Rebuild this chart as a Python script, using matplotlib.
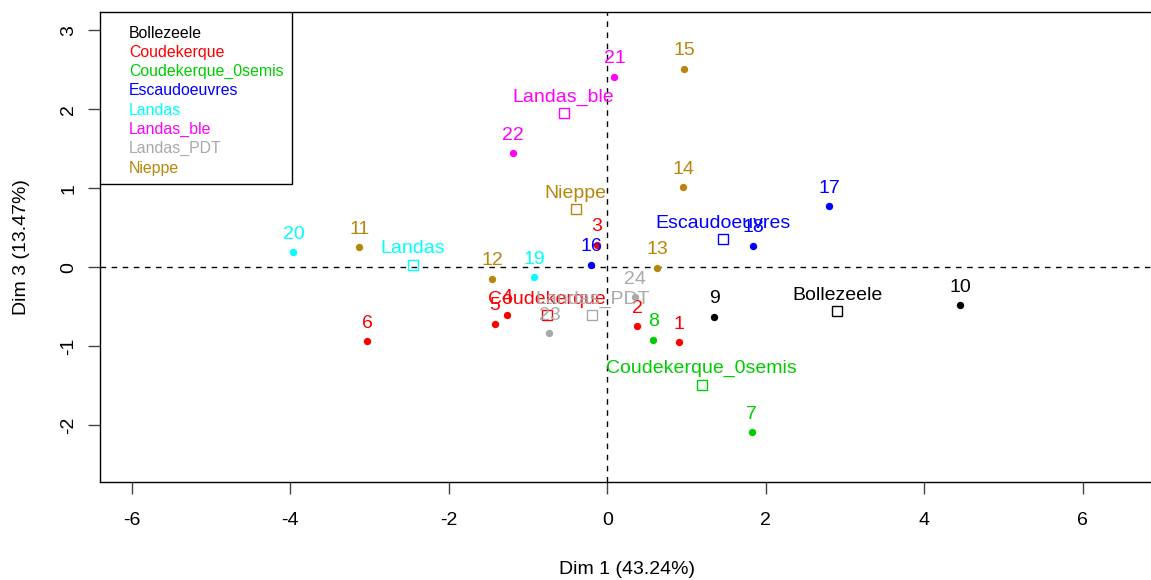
import matplotlib.pyplot as plt
from matplotlib.patches import Rectangle

# Values (approximate digitisation).
GROUPS = [
    "Bollezeele",
    "Coudekerque",
    "Coudekerque_0semis",
    "Escaudoeuvres",
    "Landas",
    "Landas_ble",
    "Landas_PDT",
    "Nieppe",
]
GROUP_COLORS = [
    "#000000",
    "#FF0000",
    "#00CD00",
    "#0000FF",
    "#00FFFF",
    "#FF00FF",
    "#A9A9A9",
    "#B8860B",
]
GROUP_X = [2.90, -0.76, 1.19, 1.46, -2.45, -0.55, -0.19, -0.40]
GROUP_Y = [-0.56, -0.61, -1.49, 0.35, 0.03, 1.95, -0.61, 0.73]

IND_LABELS = [str(i) for i in range(1, 25)]
IND_GROUP = [
    1, 1, 1, 1, 1, 1,   # 1-6
    2, 2,               # 7-8
    0, 0,               # 9-10
    7, 7, 7, 7, 7,      # 11-15
    3, 3, 3,            # 16-18
    4, 4,               # 19-20
    5, 5,               # 21-22
    6, 6,               # 23-24
]
IND_X = [0.90, 0.38, -0.13, -1.27, -1.42, -3.03, 1.82, 0.58, 1.35, 4.45,
         -3.13, -1.45, 0.63, 0.96, 0.97, -0.20, 2.80, 1.84, -0.92, -3.96,
         0.09, -1.19, -0.73, 0.35]
IND_Y = [-0.95, -0.75, 0.28, -0.61, -0.72, -0.94, -2.09, -0.92, -0.63, -0.48,
         0.25, -0.15, -0.01, 1.01, 2.51, 0.03, 0.77, 0.27, -0.13, 0.19,
         2.41, 1.44, -0.84, -0.38]

X_TICKS = [-6, -4, -2, 0, 2, 4, 6]
Y_TICKS = [-2, -1, 0, 1, 2, 3]

plt.rcParams["font.family"] = ["Liberation Sans", "DejaVu Sans"]
plt.rcParams["axes.unicode_minus"] = False

W, H = 1151, 580
fig = plt.figure(figsize=(W / 100, H / 100), dpi=100)
ax_left, ax_top, ax_bottom = 100, 12, 482
ax = fig.add_axes([ax_left / W, 1 - ax_bottom / H, 1 - ax_left / W, (ax_bottom - ax_top) / H])

ax.set_xlim(-6.40, 6.86)
ax.set_ylim(-2.72, 3.23)

ax.axhline(0, color="black", lw=1, linestyle=(0, (4, 4)), zorder=1)
ax.axvline(0, color="black", lw=1, linestyle=(0, (4, 4)), zorder=1)

for x, y, lab, g in zip(IND_X, IND_Y, IND_LABELS, IND_GROUP):
    c = GROUP_COLORS[g]
    ax.plot(x, y, "o", color=c, markersize=5.3, markeredgewidth=0, zorder=3)
    ax.annotate(lab, (x, y), xytext=(0, 13), textcoords="offset points",
                ha="center", va="center", color=c, fontsize=14, zorder=4)

for x, y, lab, c in zip(GROUP_X, GROUP_Y, GROUPS, GROUP_COLORS):
    ax.plot(x, y, "s", markerfacecolor="none", markeredgecolor=c,
            markersize=6.5, markeredgewidth=1, zorder=3)
    ax.annotate(lab, (x, y), xytext=(0, 11.5), textcoords="offset points",
                ha="center", va="center", color=c, fontsize=14, zorder=4)

# legend box drawn the way R's legend() lays it out
aw, ah = W - ax_left, ax_bottom - ax_top
ax.add_patch(Rectangle((0, 1 - 172 / ah), 192 / aw, 172 / ah, transform=ax.transAxes,
                       facecolor="white", edgecolor="black", lw=1, zorder=5))
for i, (lab, c) in enumerate(zip(GROUPS, GROUP_COLORS)):
    ax.text(29 / aw, 1 - (21 + i * 19.3) / ah, lab, transform=ax.transAxes,
            ha="left", va="center", color=c, fontsize=11.4, zorder=6)

ax.spines["right"].set_visible(False)
for s in ["left", "bottom", "top"]:
    ax.spines[s].set_linewidth(1)

ax.set_xticks(X_TICKS)
ax.set_yticks(Y_TICKS)
ax.tick_params(axis="both", direction="out", length=8.5, width=1, color="#444444",
               labelsize=14)
ax.tick_params(axis="x", pad=13)
ax.tick_params(axis="y", pad=8)
for t in ax.get_yticklabels():
    t.set_rotation(90)
    t.set_va("center")

ax.set_xlabel("Dim 1 (43.24%)", fontsize=14, va="center")
ax.xaxis.set_label_coords((627 - ax_left) / aw, -(570 - ax_bottom) / ah)
ax.set_ylabel("Dim 3 (13.47%)", fontsize=14, va="center")
ax.yaxis.set_label_coords(-(ax_left - 22) / aw, (ax_bottom - 247) / ah)

fig.savefig("out.png", dpi=100)
